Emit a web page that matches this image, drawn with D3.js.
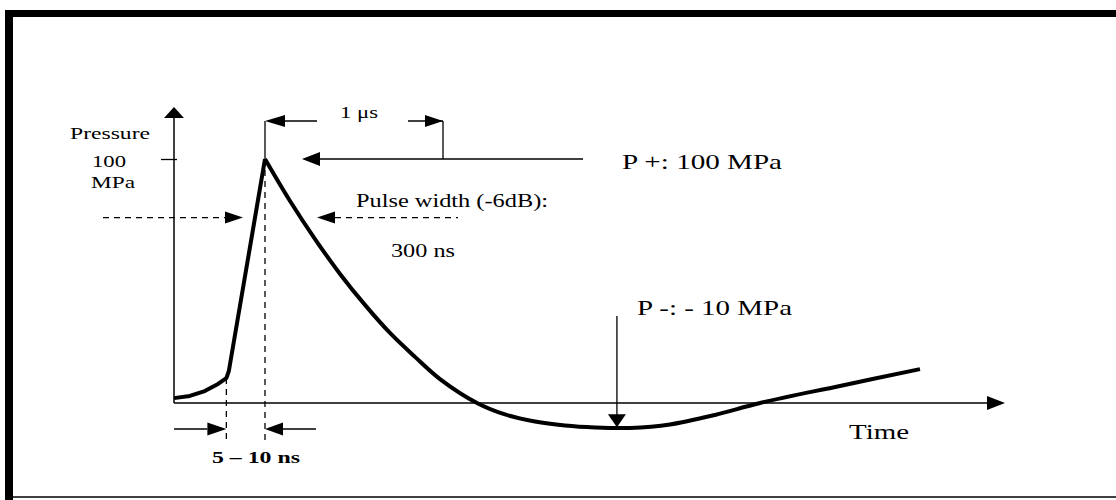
<!DOCTYPE html>
<html>
<head>
<meta charset="utf-8">
<script src="https://cdn.jsdelivr.net/npm/d3@7"></script>
<style>
    body {margin: 0; background: #fff;}
    svg {display: block;}
</style>
</head>
<body>
<svg id="chart" width="1116" height="500"></svg>
<script>
// pulse shape: schematic time units along the axis (0..100), pressure in MPa
const riseTime = [0, 1.9, 3.7, 5.3, 6.3, 6.6, 10.95];
const risePressure = [2.0, 2.9, 4.9, 7.8, 10.2, 13.1, 100];
const decayTime = [10.95, 13.96, 16.97, 19.98, 22.98, 25.99, 29.0, 32.01, 36.46, 39.83, 43.44, 47.05, 50.66, 54.87, 59.69, 65.1, 70.52, 80.14, 89.77];
const decayPressure = [100, 82.8, 67.2, 52.9, 40.2, 28.7, 18.9, 9.8, 0, -4.7, -7.6, -9.2, -10.0, -10.2, -8.8, -4.9, 0, 7.0, 13.9];

const yTicks = [100];
const yTickLabels = ["100", "MPa"];
const peakTime = 10.95;
const footTime = 6.3;
const pulseLevel = 76;     // pressure level of the pulse width arrows
const minTime = 53.3;      // where the P- arrow points
const minPressure = -10.3;

const svg = d3.select("#chart");
const font = "Liberation Serif";

const x = d3.scaleLinear().domain([0, 100]).range([174, 1005]);
const y = d3.scaleLinear().domain([0, 100]).range([403, 159]);

// frame
svg.append("rect").attr("x", 5).attr("y", 10).attr("width", 1111).attr("height", 7).attr("fill", "#000");
svg.append("rect").attr("x", 5).attr("y", 10).attr("width", 8).attr("height", 490).attr("fill", "#000");
svg.append("line").attr("x1", 13).attr("x2", 1116).attr("y1", 497).attr("y2", 497)
    .attr("stroke", "#000").attr("stroke-width", 1.5);

const g = svg.append("g");

const arrowHead = (tipX, tipY, dir, len, half) => {
    let pts;
    if (dir === "left") pts = [[tipX, tipY], [tipX + len, tipY - half], [tipX + len, tipY + half]];
    if (dir === "right") pts = [[tipX, tipY], [tipX - len, tipY - half], [tipX - len, tipY + half]];
    if (dir === "up") pts = [[tipX, tipY], [tipX - half, tipY + len], [tipX + half, tipY + len]];
    if (dir === "down") pts = [[tipX, tipY], [tipX - half, tipY - len], [tipX + half, tipY - len]];
    g.append("polygon").attr("points", pts.map(p => p.join(",")).join(" ")).attr("fill", "#000");
};

const segment = (x1, y1, x2, y2, dashed, width = 1.3) => {
    g.append("line")
        .attr("x1", x1).attr("y1", y1).attr("x2", x2).attr("y2", y2)
        .attr("stroke", "#000")
        .attr("stroke-width", width)
        .attr("stroke-dasharray", dashed ? "6,5" : null);
};

// the scan is stretched sideways, so glyphs get stretched to the measured widths
const label = (text, lx, ly, w, size, weight = "normal") => {
    g.append("text")
        .attr("x", lx).attr("y", ly)
        .attr("textLength", w).attr("lengthAdjust", "spacingAndGlyphs")
        .attr("font-family", font)
        .attr("font-size", size)
        .attr("font-weight", weight)
        .attr("fill", "#000")
        .text(text);
};

// axes
segment(x(0), y(0), x(0), 118, false, 1.5);
arrowHead(x(0), 107, "up", 11, 10);
segment(x(0), y(0), 987, y(0), false, 1.5);
arrowHead(x(100), y(0), "right", 18, 7);

g.append("g")
    .attr("transform", `translate(${x(0) + 3},0)`)
    .call(d3.axisLeft(y).tickValues(yTicks).tickSize(16).tickFormat(""))
    .call(ax => ax.select(".domain").remove())
    .selectAll("line").attr("stroke-width", 1.3);

label("Pressure", 70, 139, 80, 17);
label(yTickLabels[0], 92, y(100) + 8, 34, 17);
label(yTickLabels[1], 91, y(100) + 29, 44, 17);

// pulse
const line = d3.line().x(d => x(d[0])).y(d => y(d[1]));
g.append("path")
    .datum(d3.zip(riseTime, risePressure))
    .attr("d", line.curve(d3.curveLinear))
    .attr("fill", "none").attr("stroke", "#000").attr("stroke-width", 4).attr("stroke-linejoin", "round");
g.append("path")
    .datum(d3.zip(decayTime, decayPressure))
    .attr("d", line.curve(d3.curveCatmullRom.alpha(0.5)))
    .attr("fill", "none").attr("stroke", "#000").attr("stroke-width", 4).attr("stroke-linejoin", "round");

// 1 us marker
segment(x(peakTime), y(100), x(peakTime), 121);
arrowHead(x(peakTime), 121, "left", 20, 6);
segment(x(peakTime) + 20, 121, 317, 121);
segment(408, 121, 443, 121);
arrowHead(443, 121, "right", 18, 6);
segment(443, 121, 443, y(100));
label("1 μs", 340, 118, 38, 17);

// P+ arrow
segment(x(peakTime) + 50, y(100), 583, y(100));
arrowHead(x(peakTime) + 37, y(100), "left", 18, 7);
label("P +: 100 MPa", 622, 169, 160, 21);

// pulse width arrows
segment(103, y(pulseLevel), 226, y(pulseLevel), true);
arrowHead(243, y(pulseLevel), "right", 18, 6);
segment(335, y(pulseLevel), 458, y(pulseLevel), true);
arrowHead(317, y(pulseLevel), "left", 18, 6);
label("Pulse width (-6dB):", 356, 207, 192, 18);
label("300 ns", 391, 257, 64, 18);

// rise time markers
segment(x(footTime), y(10.2), x(footTime), 440, true);
segment(x(peakTime), y(100), x(peakTime), 440, true);
segment(x(0), 429, x(footTime) - 19, 429);
arrowHead(x(footTime), 429, "right", 19, 6.5);
segment(x(peakTime) + 18, 429, 316, 429);
arrowHead(x(peakTime), 429, "left", 18, 6.5);
label("5 – 10 ns", 212, 463, 88, 17, "bold");

// P- arrow
segment(x(minTime), 316, x(minTime), y(minPressure) - 12);
arrowHead(x(minTime), y(minPressure) - 1, "down", 13, 9);
label("P -: - 10 MPa", 637, 315, 155, 21);

label("Time", 849, 439, 60, 22);
</script>
</body>
</html>
